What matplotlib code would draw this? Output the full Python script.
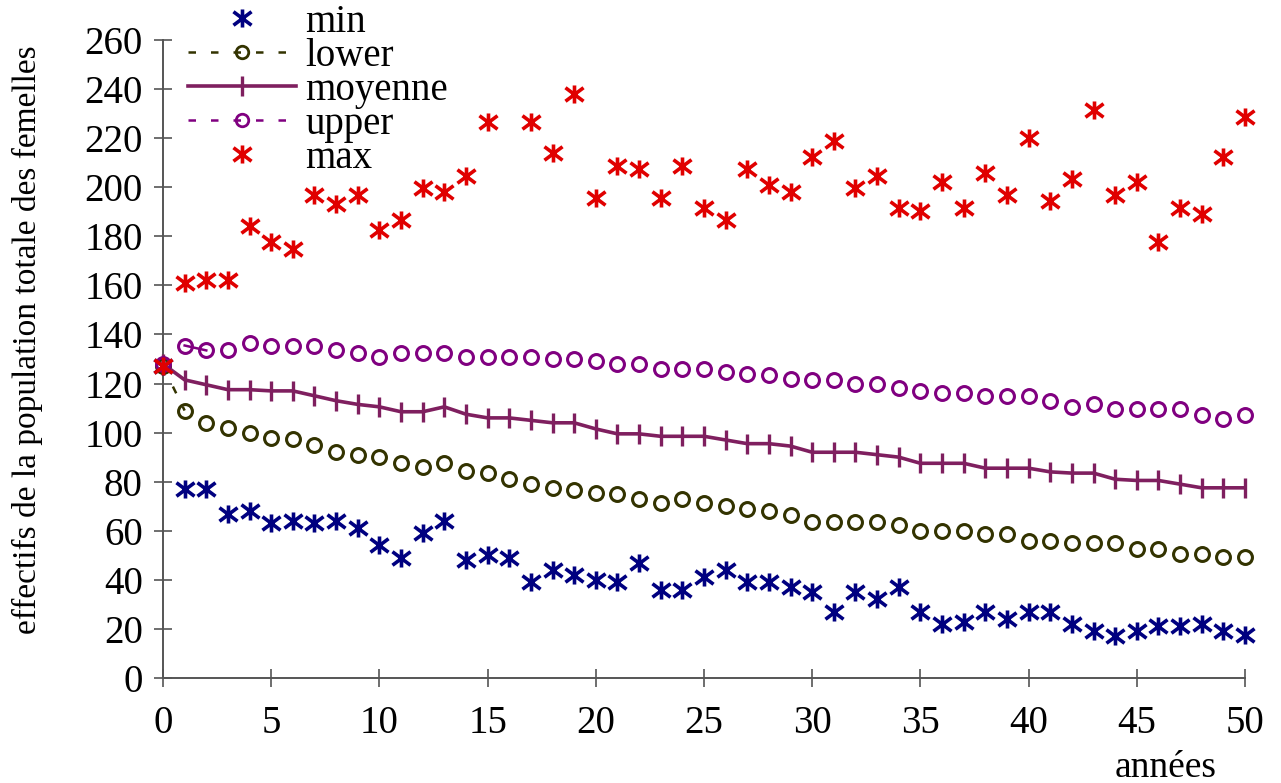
import numpy as np
import matplotlib
matplotlib.use("Agg")
import matplotlib.pyplot as plt
from matplotlib.lines import Line2D
from matplotlib.path import Path

years = list(range(0, 51))

min_vals = [127, 77, 77, 67, 68, 63, 64, 63, 64, 61, 54, 49, 59, 64, 48, 50, 49, 39,
            44, 42, 40, 39, 47, 36, 36, 41, 44, 39, 39, 37, 35, 27, 35, 32, 37, 27,
            22, 23, 27, 24, 27, 27, 22, 19, 17, 19, 21, 21, 22, 19, 17.5]

lower_vals = [127, 109, 104, 102, 100, 98, 97.5, 95, 92, 91, 90, 87.5, 86, 87.5, 84.5,
              83.5, 81, 79, 77.5, 76.5, 75.5, 75, 73, 71.5, 73, 71.5, 70, 69, 68, 66.5,
              63.5, 63.5, 63.5, 63.5, 62.5, 60, 60, 60, 58.5, 58.5, 56, 56, 55, 55, 55,
              52.5, 52.5, 50.5, 50.5, 49.5, 49.5]

moyenne_vals = [128, 121.5, 119.5, 117.5, 117.5, 117, 117, 115, 113, 111.5, 110.5, 108.5,
                108.5, 110.5, 107.5, 106, 106, 105, 104, 104, 101.5, 99.5, 99.5, 98.5,
                98.5, 98.5, 97, 95.5, 95.5, 94.5, 92, 92, 92, 91, 90, 87.5, 87.5, 87.5,
                85.5, 85.5, 85.5, 84, 83.5, 83.5, 81, 80.5, 80.5, 79, 77.5, 77.5, 77.5]

upper_vals = [128, 135.5, 133.5, 133.5, 136.5, 135.5, 135.5, 135.5, 133.5, 132.5, 131,
              132.5, 132.5, 132.5, 131, 131, 131, 131, 130, 130, 129, 128, 128, 126,
              126, 126, 124.5, 124, 123.5, 122, 121.5, 121.5, 120, 120, 118, 117,
              116, 116, 115, 115, 115, 113, 110.5, 111.5, 109.5, 109.5, 109.5, 109.5,
              107, 105.5, 107]

max_vals = [127, 161, 162, 162, 184, 177.5, 175, 197, 193, 197, 182.5, 186.5, 199.5,
            198, 204.5, 226.5, np.nan, 226.5, 214, 238, 195.5, 208.5, 207.5, 195.5,
            208.5, 191.5, 186.5, 207.5, 201, 198, 212.5, 219, 199.5, 204.5, 191.5,
            190.5, 202, 191.5, 206, 197, 220, 194.5, 203.5, 231.5, 197, 202, 177.5,
            191.5, 189, 212.5, 228.5]

x_ticks = [0, 5, 10, 15, 20, 25, 30, 35, 40, 45, 50]
y_ticks = [0, 20, 40, 60, 80, 100, 120, 140, 160, 180, 200, 220, 240, 260]

c_min = "#000080"
c_lower = "#333300"
c_moy = "#7f1f5f"
c_upper = "#800080"
c_max = "#e00000"

plt.rcParams['font.family'] = ['Liberation Serif', 'DejaVu Serif']

fig = plt.figure(figsize=(12.81, 7.83), dpi=100)
ax = fig.add_axes([163/1281, 1 - 678/783, (1245-163)/1281, (678-40)/783])

# X with a vertical bar
star = Path([(0, -1), (0, 1), (-1, -0.75), (1, 0.75), (-1, 0.75), (1, -0.75)],
            [Path.MOVETO, Path.LINETO, Path.MOVETO, Path.LINETO, Path.MOVETO, Path.LINETO])

ms_star = 13
mew_star = 2.6

ax.plot(years, min_vals, linestyle='none', marker=star, markersize=ms_star,
        markeredgewidth=mew_star, color=c_min, clip_on=False, zorder=3)
ax.plot(years, lower_vals, linestyle='none', marker='o', markersize=10,
        markerfacecolor='none', markeredgewidth=2.2, color=c_lower, clip_on=False, zorder=3)
ax.plot(years[:2], lower_vals[:2], linestyle=(0, (3, 6)), linewidth=1.8,
        color=c_lower, clip_on=False, zorder=2)
ax.plot(years, moyenne_vals, linestyle='-', linewidth=2.6, marker='|',
        markersize=14, markeredgewidth=2.4, color=c_moy, clip_on=False, zorder=3)
ax.plot(years, upper_vals, linestyle='none', marker='o', markersize=10,
        markerfacecolor='none', markeredgewidth=2.2, color=c_upper, clip_on=False, zorder=3)
ax.plot(years[1:3], upper_vals[1:3], linestyle='-', linewidth=1.8,
        color=c_upper, clip_on=False, zorder=2)
ax.plot(years, max_vals, linestyle='none', marker=star, markersize=ms_star,
        markeredgewidth=mew_star, color=c_max, clip_on=False, zorder=4)

ax.set_xlim(0, 50)
ax.set_ylim(0, 260)
ax.set_xticks(x_ticks)
ax.set_yticks(y_ticks)

for s in ['top', 'right']:
    ax.spines[s].set_visible(False)
for s in ['left', 'bottom']:
    ax.spines[s].set_color('#555555')
    ax.spines[s].set_linewidth(1.4)

ax.tick_params(axis='both', direction='inout', length=13, width=1.2,
               colors='#555555', labelcolor='black', labelsize=28)
ax.tick_params(axis='x', pad=13)
ax.tick_params(axis='y', pad=8)

ax.set_ylabel("effectifs de la population totale des femelles", fontsize=24)
ax.yaxis.set_label_coords(-0.111, 0.53)
fig.text(1166/1281, 1 - 777/783, "années", fontsize=27, ha='center', va='baseline')

handles = [
    Line2D([], [], linestyle='none', marker=star, markersize=ms_star, markeredgewidth=mew_star, color=c_min),
    Line2D([], [], linestyle=(0, (3, 6)), linewidth=1.8, marker='o', markersize=9,
           markerfacecolor='none', markeredgewidth=2.0, color=c_lower),
    Line2D([], [], linestyle='-', linewidth=2.6, marker='|', markersize=14,
           markeredgewidth=2.4, color=c_moy),
    Line2D([], [], linestyle=(0, (3, 6)), linewidth=1.8, marker='o', markersize=9,
           markerfacecolor='none', markeredgewidth=2.0, color=c_upper),
    Line2D([], [], linestyle='none', marker=star, markersize=ms_star, markeredgewidth=mew_star, color=c_max),
]
labels = ["min", "lower", "moyenne", "upper", "max"]
fig.legend(handles, labels, loc='upper left', bbox_to_anchor=(188/1281, 1 - 4/783),
           frameon=False, fontsize=28, handlelength=2.78, handletextpad=0.23,
           labelspacing=-0.08, borderpad=0, borderaxespad=0)

fig.savefig("out.png", dpi=100)
